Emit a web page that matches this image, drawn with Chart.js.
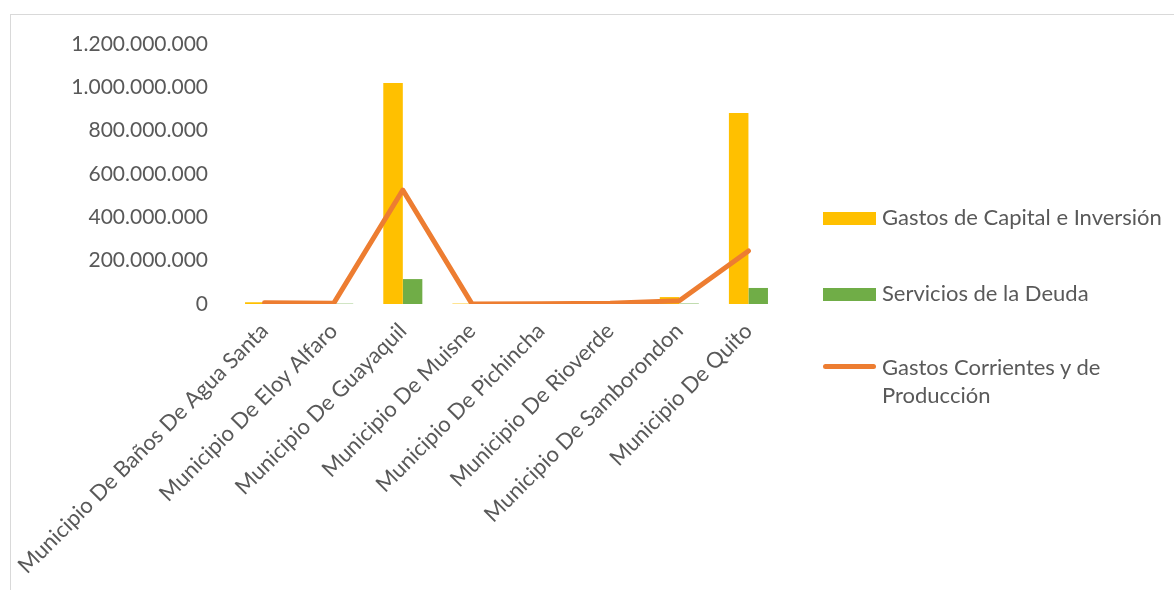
<!DOCTYPE html>
<html>
<head>
<meta charset="utf-8">
<script src="https://cdn.jsdelivr.net/npm/chart.js@4/dist/chart.umd.min.js"></script>
<style>
html, body { margin: 0; padding: 0; background: #fff; overflow: hidden; }
#wrap { position: relative; width: 1174px; height: 590px; }
#frame { position: absolute; left: 10px; top: 14px; width: 1200px; height: 600px; border-left: 1px solid #d9d9d9; border-top: 1px solid #d9d9d9; }
#chart { position: absolute; left: 0; top: 0; }
.legend { position: absolute; left: 823px; font-family: Lato, "Open Sans", sans-serif; font-size: 22px; color: #595959; line-height: 28px; }
.legend .item { position: absolute; left: 0; white-space: nowrap; }
.legend .sw { position: absolute; left: 0; width: 53px; }
.legend .txt { position: absolute; left: 59px; }
</style>
</head>
<body>
<div id="wrap">
  <div id="frame"></div>
  <canvas id="chart" width="1174" height="590"></canvas>
  <div class="legend" id="legend"></div>
</div>
<script>
var categories = [
  'Municipio De Baños De Agua Santa',
  'Municipio De Eloy Alfaro',
  'Municipio De Guayaquil',
  'Municipio De Muisne',
  'Municipio De Pichincha',
  'Municipio De Rioverde',
  'Municipio De Samborondon',
  'Municipio De Quito'
];
var capitalInversion = [8000000, 3000000, 1020000000, 2000000, 1000000, 2000000, 32000000, 882000000];
var serviciosDeuda = [500000, 1500000, 115000000, 200000, 100000, 300000, 2000000, 74000000];
var corrientesProduccion = [6000000, 3000000, 526000000, 500000, 1500000, 4000000, 15000000, 245000000];
var yTicks = [0, 200000000, 400000000, 600000000, 800000000, 1000000000, 1200000000];

var seriesNames = ['Gastos de Capital e Inversión', 'Servicios de la Deuda', 'Gastos Corrientes y de Producción'];
var seriesColors = ['#FFC000', '#70AD47', '#ED7D31'];

var FONT = 'Lato, "Open Sans", sans-serif';

function fmtMiles(v) {
  return v.toString().replace(/\B(?=(\d{3})+(?!\d))/g, '.');
}

new Chart(document.getElementById('chart').getContext('2d'), {
  data: {
    labels: categories,
    datasets: [
      { type: 'line', label: seriesNames[2], data: corrientesProduccion, borderColor: seriesColors[2], borderWidth: 5, pointRadius: 0, tension: 0, borderCapStyle: 'round', borderJoinStyle: 'round', order: 0 },
      { type: 'bar', label: seriesNames[0], data: capitalInversion, backgroundColor: seriesColors[0], categoryPercentage: 0.565, barPercentage: 1.0, order: 1 },
      { type: 'bar', label: seriesNames[1], data: serviciosDeuda, backgroundColor: seriesColors[1], categoryPercentage: 0.565, barPercentage: 1.0, order: 1 }
    ]
  },
  options: {
    responsive: false,
    animation: false,
    layout: { padding: { top: 44, right: 391, bottom: 0, left: 0 } },
    plugins: { legend: { display: false }, tooltip: { enabled: false } },
    scales: {
      x: {
        grid: { display: false, drawTicks: false },
        border: { display: false },
        ticks: { color: '#595959', font: { family: FONT, size: 22 }, minRotation: 45, maxRotation: 45, padding: 14, autoSkip: false },
        // keep the long rotated first label from pushing the plot area right
        afterFit: function(s) { s.height = 286; s.paddingLeft = 0; s.paddingRight = 0; }
      },
      y: {
        min: 0, max: 1200000000,
        grid: { display: false, drawTicks: false },
        border: { display: false },
        afterBuildTicks: function(s) { s.ticks = yTicks.map(function(v) { return { value: v }; }); },
        ticks: { color: '#595959', font: { family: FONT, size: 21 }, padding: 22, callback: function(v) { return fmtMiles(v); } },
        afterFit: function(s) { s.width = 230; }
      }
    }
  }
});

// legend on the right, in the same order as the series list
var legendRows = [
  { idx: 0, top: 203, kind: 'box' },
  { idx: 1, top: 279, kind: 'box' },
  { idx: 2, top: 353, kind: 'line' }
];
var legendEl = document.getElementById('legend');
legendRows.forEach(function(r) {
  var item = document.createElement('div');
  item.className = 'item';
  item.style.top = r.top + 'px';
  var sw = document.createElement('div');
  sw.className = 'sw';
  sw.style.background = seriesColors[r.idx];
  if (r.kind === 'box') { sw.style.top = '9px'; sw.style.height = '13px'; }
  else { sw.style.top = '11px'; sw.style.height = '5px'; sw.style.borderRadius = '3px'; }
  var txt = document.createElement('div');
  txt.className = 'txt';
  txt.innerHTML = r.idx === 2 ? 'Gastos Corrientes y de<br>Producción' : seriesNames[r.idx];
  item.appendChild(sw);
  item.appendChild(txt);
  legendEl.appendChild(item);
});
</script>
</body>
</html>
